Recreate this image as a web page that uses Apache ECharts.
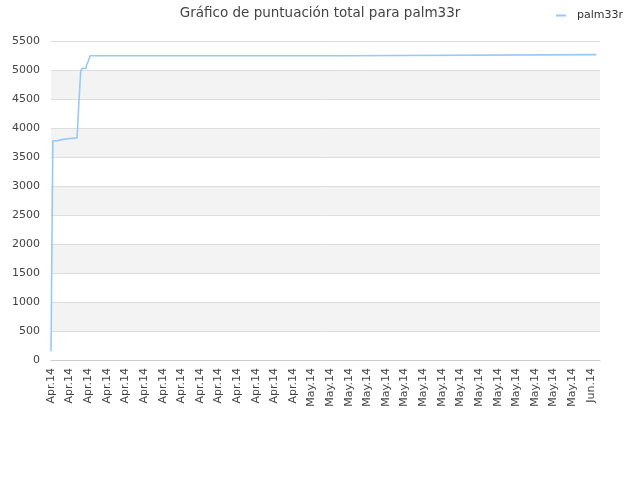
<!DOCTYPE html>
<html>
<head>
<meta charset="utf-8">
<script src="https://cdn.jsdelivr.net/npm/echarts@6/dist/echarts.min.js"></script>
<style>
  html, body { margin: 0; padding: 0; background: #fff; }
  #chart { width: 640px; height: 480px; }
</style>
</head>
<body>
<div id="chart"></div>
<script>
// one category per sample, a label every 10th
const monthLabels = [
  'Apr.14', 'Apr.14', 'Apr.14', 'Apr.14', 'Apr.14', 'Apr.14', 'Apr.14',
  'Apr.14', 'Apr.14', 'Apr.14', 'Apr.14', 'Apr.14', 'Apr.14', 'Apr.14',
  'May.14', 'May.14', 'May.14', 'May.14', 'May.14', 'May.14', 'May.14',
  'May.14', 'May.14', 'May.14', 'May.14', 'May.14', 'May.14', 'May.14',
  'May.14', 'Jun.14'
]
const sampleCount = 296
const labelEvery = 10

// score changes: sample index and total score from there on
const changeIndex = [0, 1, 3, 6, 9, 14, 15, 16, 17, 19, 20, 21, 157, 293]
const changeScore = [150, 3780, 3800, 3815, 3830, 3840, 4450, 4990, 5030, 5080, 5150, 5245, 5265, 5265]

const categories = []
for (let i = 0; i < sampleCount; i++) {
  categories.push(i % labelEvery === 0 ? monthLabels[i / labelEvery] : '')
}

// stepped path: hold the old score up to the change, then jump
const points = []
changeIndex.forEach((idx, i) => {
  if (i > 0) points.push([idx, changeScore[i - 1]])
  points.push([idx, changeScore[i]])
})

const chart = echarts.init(document.getElementById('chart'))
chart.setOption({
  animation: false,
  textStyle: { fontFamily: 'DejaVu Sans' },
  title: {
    text: 'Gráfico de puntuación total para palm33r',
    left: 'center',
    top: 1,
    textStyle: { fontSize: 13.5, fontWeight: 'normal', color: '#444' }
  },
  legend: {
    right: 12,
    top: 5,
    itemWidth: 10,
    itemHeight: 2,
    icon: 'rect',
    textStyle: { fontSize: 11, color: '#333', padding: [0, 0, 0, 6] },
    data: ['palm33r']
  },
  grid: { left: 51, right: 40, top: 41, bottom: 120 },
  xAxis: {
    type: 'category',
    data: categories,
    boundaryGap: false,
    axisLine: { lineStyle: { color: '#ccc' } },
    axisTick: { show: false },
    axisLabel: {
      interval: labelEvery - 1,
      rotate: 90,
      fontSize: 11,
      color: '#444',
      margin: 8
    },
    splitLine: { show: false }
  },
  yAxis: {
    type: 'value',
    min: 0,
    max: 5500,
    interval: 500,
    axisLine: { show: false },
    axisTick: { show: false },
    axisLabel: { fontSize: 11, color: '#444', margin: 11, formatter: v => String(v) },
    splitLine: { lineStyle: { color: '#ddd' } },
    splitArea: { show: true, areaStyle: { color: ['#fff', '#f3f3f3'] } }
  },
  series: [{
    name: 'palm33r',
    type: 'line',
    data: points,
    showSymbol: false,
    itemStyle: { color: '#99c9f5' },
    lineStyle: { color: '#99c9f5', width: 1.6 }
  }]
})
</script>
</body>
</html>
